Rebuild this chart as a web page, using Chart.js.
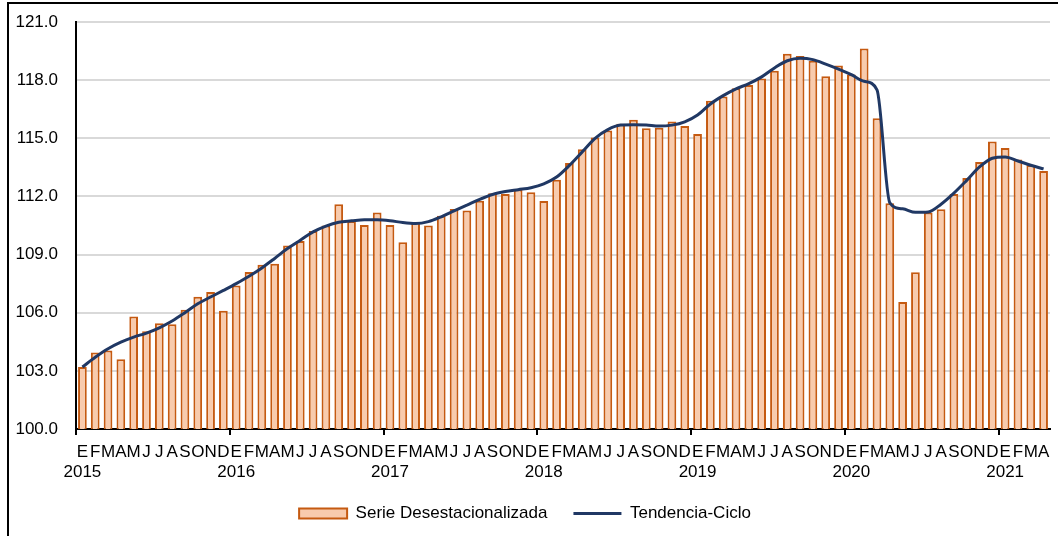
<!DOCTYPE html>
<html>
<head>
<meta charset="utf-8">
<title>Serie desestacionalizada y tendencia-ciclo</title>
<script src="https://cdn.jsdelivr.net/npm/chart.js@4.4.0/dist/chart.umd.min.js"></script>
<style>
    html, body { margin: 0; padding: 0; background: #fff; overflow: hidden; }
    #wrap { position: relative; width: 1058px; height: 536px; }
    #grafica { position: absolute; left: 0; top: 0; }
    /* marco del gráfico (se sale de la ventana a la derecha y abajo) */
    #marco { position: absolute; left: 7px; top: 2px; width: 1100px; height: 600px; border: 2px solid #000; pointer-events: none; }
</style>
</head>
<body>
<div id="wrap">
    <canvas id="grafica" width="1058" height="536" style="width:1058px;height:536px"></canvas>
    <div id="marco"></div>
</div>
<script>
// Datos: ene 2015 - abr 2021
const meses = ['E', 'F', 'M', 'A', 'M', 'J', 'J', 'A', 'S', 'O', 'N', 'D'];
const anios = ['2015', '2016', '2017', '2018', '2019', '2020', '2021'];

const serie = [
    103.2, 103.95, 104.05, 103.6, 105.8, 105.05, 105.45, 105.4, 106.15, 106.83, 107.07, 106.1,
    107.41, 108.1, 108.48, 108.52, 109.47, 109.7, 110.22, 110.5, 111.6, 110.72, 110.53, 111.17,
    110.53, 109.64, 110.67, 110.5, 111.0, 111.35, 111.27, 111.78, 112.16, 112.12, 112.36, 112.22,
    111.76, 112.86, 113.73, 114.44, 115.04, 115.4, 115.75, 115.96, 115.52, 115.54, 115.87, 115.63,
    115.22, 116.94, 117.16, 117.58, 117.75, 118.08, 118.49, 119.36, 119.25, 119.0, 118.2, 118.75,
    118.29, 119.63, 116.03, 111.65, 106.55, 108.09, 111.17, 111.34, 112.12, 112.95, 113.78, 114.83,
    114.5, 113.9, 113.62, 113.31
];

const tendencia = [
    103.2, 103.7, 104.14, 104.48, 104.74, 104.95, 105.22, 105.57, 106.0, 106.46, 106.81, 107.15,
    107.5, 107.88, 108.31, 108.8, 109.31, 109.74, 110.17, 110.47, 110.67, 110.74, 110.8, 110.8,
    110.75, 110.65, 110.6, 110.7, 110.95, 111.25, 111.55, 111.85, 112.1, 112.25, 112.35, 112.45,
    112.65, 113.0, 113.6, 114.3, 115.0, 115.45, 115.68, 115.7, 115.68, 115.63, 115.68, 115.85,
    116.2, 116.77, 117.2, 117.55, 117.82, 118.17, 118.63, 119.0, 119.13, 119.06, 118.83, 118.57,
    118.28, 117.94, 117.5, 111.67, 111.36, 111.18, 111.2, 111.6, 112.17, 112.83, 113.52, 113.97,
    114.04, 113.83, 113.61, 113.42
];

// Etiquetas: letra del mes y el año debajo de enero
const etiquetas = serie.map(function(v, i) {
    const m = meses[i % 12];
    return i % 12 === 0 ? [m, anios[Math.floor(i / 12)]] : m;
});

const fuente = { family: '"Liberation Sans", Arial, sans-serif', size: 17 };

const ctx = document.getElementById('grafica').getContext('2d');
new Chart(ctx, {
    type: 'bar',
    data: {
        labels: etiquetas,
        datasets: [{
            type: 'bar',
            label: 'Serie Desestacionalizada',
            data: serie,
            backgroundColor: '#f8cbad',
            borderColor: '#c55a11',
            borderWidth: 2,
            categoryPercentage: 1,
            barPercentage: 0.68,
            order: 1
        }, {
            type: 'line',
            label: 'Tendencia-Ciclo',
            data: tendencia,
            borderColor: '#203864',
            borderWidth: 3,
            pointRadius: 0,
            fill: false,
            cubicInterpolationMode: 'monotone',
            order: 0
        }]
    },
    options: {
        responsive: false,
        animation: false,
        layout: { padding: { left: 0, right: 8, top: 22, bottom: 4 } },
        plugins: {
            tooltip: { enabled: false },
            legend: {
                position: 'bottom',
                labels: {
                    usePointStyle: true,
                    pointStyleWidth: 48,
                    boxHeight: 10,
                    padding: 26,
                    color: '#000',
                    font: fuente,
                    generateLabels: function(chart) {
                        const items = Chart.defaults.plugins.legend.labels.generateLabels(chart);
                        items.sort((a, b) => a.datasetIndex - b.datasetIndex);
                        items.forEach(it => {
                            it.pointStyle = it.datasetIndex === 0 ? 'rect' : 'line';
                        });
                        return items;
                    }
                }
            }
        },
        scales: {
            x: {
                grid: {
                    offset: true,
                    drawOnChartArea: false,
                    tickLength: 6,
                    lineWidth: 2,
                    color: c => (c.index % 12 === 0 ? '#000' : 'rgba(0,0,0,0)')
                },
                border: { color: '#000', width: 2 },
                ticks: { autoSkip: false, maxRotation: 0, padding: 7, color: '#000', font: fuente },
                afterFit: function(scale) { scale.height = 50; }
            },
            y: {
                min: 100,
                max: 121,
                ticks: {
                    stepSize: 3,
                    padding: 18,
                    color: '#000',
                    font: fuente,
                    callback: v => v.toFixed(1)
                },
                grid: { color: '#d9d9d9', lineWidth: 2, drawTicks: false },
                border: { color: '#000', width: 2 },
                afterFit: function(scale) {
                    // ancho fijo del eje y sin relleno extra arriba
                    scale.width = 76;
                    scale.paddingTop = 0;
                    scale.paddingBottom = 0;
                }
            }
        }
    }
});
</script>
</body>
</html>
